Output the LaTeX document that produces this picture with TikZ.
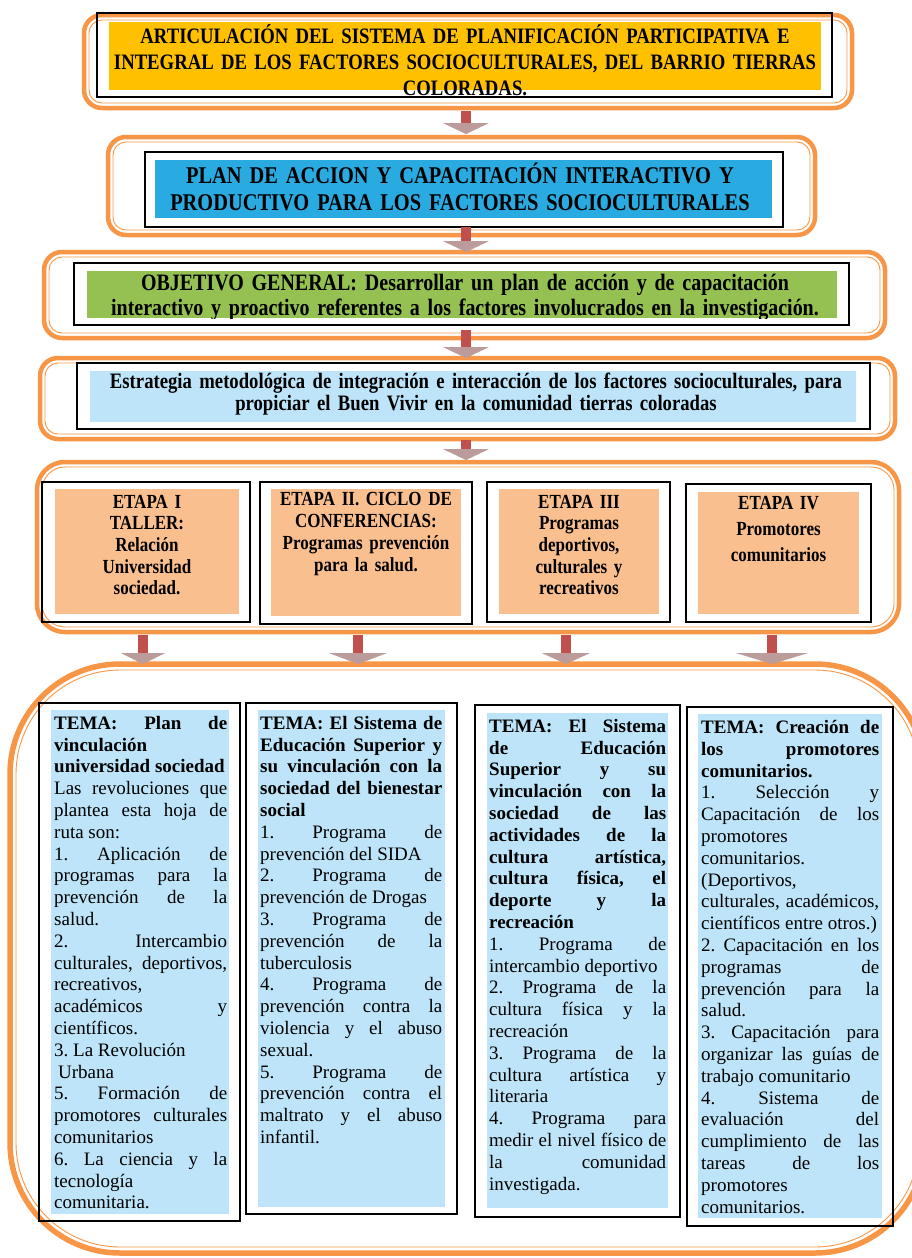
\documentclass[tikz,border=0pt]{standalone}
\usepackage{fontspec}
\setmainfont{Liberation Serif}
\newfontfamily\narrowserif{Liberation Serif}[FakeStretch=0.85]
\usetikzlibrary{arrows.meta,fit}
\frenchspacing
\tolerance=10000
\hyphenpenalty=10000
\hbadness=10000
\hfuzz=20pt

\definecolor{ringorange}{HTML}{F79646}
\definecolor{titleyellow}{HTML}{FFC000}
\definecolor{planblue}{HTML}{29ABE2}
\definecolor{goalgreen}{HTML}{94C152}
\definecolor{paleblue}{HTML}{BDE4F8}
\definecolor{stagesalmon}{HTML}{FABF8F}
\definecolor{arrowred}{HTML}{C0504D}
\definecolor{headmauve}{HTML}{BC9B9B}

\tikzset{
  ringouter/.style={draw=ringorange, line width=4.5pt, rounded corners=18pt, inner sep=0pt, outer sep=0pt},
  ringinner/.style={draw=ringorange, line width=0.9pt, rounded corners=13pt, inner sep=-5pt, outer sep=0pt},
  blackbox/.style={draw=black, line width=1.7pt, inner sep=0pt},
  fillbox/.style={inner sep=0pt, outer sep=0pt},
  headtext/.style={text width=#1pt, align=center, inner sep=0pt},
  stagetext/.style={text width=#1pt, align=center, inner sep=0pt,
    font={\narrowserif\bfseries\fontsize{20}{21.7}\selectfont}},
  coltext/.style={text width=#1pt, align=justify, anchor=north west, inner sep=0pt,
    font={\fontsize{19}{21.8}\selectfont}},
  flowarrow/.style={draw=arrowred, line width=10pt,
    -{Triangle[width=#1pt, length=11pt, line width=0.4pt, color=headmauve]}},
  flowarrow/.default=46
}

\begin{document}
\begin{tikzpicture}[x=1pt,y=-1pt]
\useasboundingbox (0,0) rectangle (911,1258);

% articulacion
\node[ringouter, minimum width=768pt, minimum height=93pt] (o1) at (468,61.5) {};
\node[ringinner, fit=(o1)] (o1in) {};
\node[blackbox, minimum width=735pt, minimum height=84pt] (b1) at (464.5,55) {};
\node[fillbox, fill=titleyellow, minimum width=712pt, minimum height=68pt] (f1) at (465,56) {};
\begin{scope}
  \clip ([shift={(2pt,-2pt)}]b1.north west) rectangle ([shift={(-2pt,2pt)}]b1.south east);
  \node[headtext=780, font={\narrowserif\bfseries\fontsize{22}{26}\selectfont}] (t1) at (465,60.5)
    {ARTICULACIÓN DEL SISTEMA DE PLANIFICACIÓN PARTICIPATIVA E\\
     INTEGRAL DE LOS FACTORES SOCIOCULTURALES, DEL BARRIO TIERRAS\\
     COLORADAS.};
\end{scope}

% plan de accion
\node[ringouter, minimum width=707pt, minimum height=98pt] (o2) at (461.5,186) {};
\node[ringinner, fit=(o2)] (o2in) {};
\node[blackbox, minimum width=638pt, minimum height=75pt] (b2) at (464,189.5) {};
\node[fillbox, fill=planblue, minimum width=617pt, minimum height=58pt] (f2) at (463.5,189) {};
\node[headtext=680, font={\narrowserif\bfseries\fontsize{24}{27}\selectfont}] (t2) at (460,186.5)
  {PLAN DE ACCION Y CAPACITACIÓN INTERACTIVO Y\\
   PRODUCTIVO PARA LOS FACTORES SOCIOCULTURALES};

% objetivo general
\node[ringouter, minimum width=841pt, minimum height=86pt] (o3) at (464.5,295) {};
\node[ringinner, fit=(o3)] (o3in) {};
\node[blackbox, minimum width=775pt, minimum height=62pt] (b3) at (461.5,294) {};
\node[fillbox, fill=goalgreen, minimum width=750pt, minimum height=47pt] (f3) at (462,294.5) {};
\begin{scope}
  \clip (f3.north west) rectangle (f3.south east);
  \node[headtext=820, font={\narrowserif\bfseries\fontsize{23.5}{25}\selectfont}] (t3) at (465,297.5)
    {OBJETIVO GENERAL: Desarrollar un plan de acción y de capacitación\\
     interactivo y proactivo referentes a los factores involucrados en la investigación.};
\end{scope}

% estrategia
\node[ringouter, minimum width=855pt, minimum height=81pt] (o4) at (467.5,398.5) {};
\node[ringinner, fit=(o4)] (o4in) {};
\node[blackbox, minimum width=793pt, minimum height=66pt] (b4) at (473.5,396) {};
\node[fillbox, fill=paleblue, minimum width=766pt, minimum height=51pt] (f4) at (473,396.5) {};
\node[headtext=840, font={\narrowserif\bfseries\fontsize{22}{22}\selectfont}] (t4) at (476,394)
  {Estrategia metodológica de integración e interacción de los factores socioculturales, para\\
   propiciar el Buen Vivir en la comunidad tierras coloradas};

% etapas
\node[ringouter, rounded corners=28pt, minimum width=862pt, minimum height=170pt] (o5) at (468,547) {};
\node[ringinner, rounded corners=23pt, fit=(o5)] (o5in) {};

\node[blackbox, minimum width=208pt, minimum height=140pt] (e1box) at (146,552) {};
\node[fillbox, fill=stagesalmon, minimum width=184pt, minimum height=125pt] (e1bg) at (147,551.5) {};
\node[stagetext=184] (e1) at (147,545) {ETAPA I\\TALLER:\\Relación\\Universidad\\sociedad.};

\node[blackbox, minimum width=212pt, minimum height=142pt] (e2box) at (366,553) {};
\node[fillbox, fill=stagesalmon, minimum width=190pt, minimum height=127pt] (e2bg) at (366,552.5) {};
\node[stagetext=190] (e2) at (366,534) {ETAPA II. CICLO DE\\CONFERENCIAS:\\Programas prevención\\para la salud.};

\node[blackbox, minimum width=183pt, minimum height=140pt] (e3box) at (578.5,552) {};
\node[fillbox, fill=stagesalmon, minimum width=160pt, minimum height=125pt] (e3bg) at (579,551.5) {};
\node[stagetext=160] (e3) at (579,545) {ETAPA III\\Programas\\deportivos,\\culturales y\\recreativos};

\node[blackbox, minimum width=185pt, minimum height=138pt] (e4box) at (778.5,553) {};
\node[fillbox, fill=stagesalmon, minimum width=161pt, minimum height=122pt] (e4bg) at (778.5,553) {};
\node[stagetext=161, font={\narrowserif\bfseries\fontsize{20}{26}\selectfont}] (e4) at (778.5,529) {ETAPA IV\\Promotores\\comunitarios};

% temas
\node[ringouter, rounded corners=110pt, line width=5.5pt, minimum width=915pt, minimum height=589pt] (o6) at (467.5,958.5) {};
\node[ringinner, rounded corners=104pt, inner sep=-6pt, fit=(o6)] (o6in) {};

\node[blackbox, minimum width=201pt, minimum height=518pt] (c1box) at (139.5,962) {};
\node[fillbox, fill=paleblue, minimum width=178pt, minimum height=504pt] (c1bg) at (140,962) {};
\node[coltext=173] (c1) at (54,716) {%
{\bfseries TEMA: Plan de\linebreak vinculación\newline universidad sociedad}\newline
Las revoluciones que\linebreak plantea esta hoja de\linebreak ruta son:\newline
1. Aplicación de\linebreak programas para la\linebreak prevención de la\linebreak salud.\newline
2. Intercambio\linebreak culturales, deportivos,\linebreak recreativos,\newline académicos y\linebreak científicos.\newline
3. La Revolución\newline \hspace*{4pt}Urbana\newline
5. Formación de\linebreak promotores culturales\linebreak comunitarios\newline
6. La ciencia y la\linebreak tecnología\newline comunitaria.};

\node[blackbox, minimum width=211pt, minimum height=511pt] (c2box) at (351.5,958.5) {};
\node[fillbox, fill=paleblue, minimum width=187pt, minimum height=497pt] (c2bg) at (351.5,958.5) {};
\node[coltext=182] (c2) at (260,716) {%
{\bfseries TEMA: El Sistema de\linebreak Educación Superior y\linebreak su vinculación con la\linebreak sociedad del bienestar\linebreak social}\newline
1. Programa de\linebreak prevención del SIDA\newline
2. Programa de\linebreak prevención de Drogas\newline
3. Programa de\linebreak prevención de la\linebreak tuberculosis\newline
4. Programa de\linebreak prevención contra la\linebreak violencia y el abuso\linebreak sexual.\newline
5. Programa de\linebreak prevención contra el\linebreak maltrato y el abuso\linebreak infantil.};

\node[blackbox, minimum width=205pt, minimum height=512pt] (c3box) at (577.5,961) {};
\node[fillbox, fill=paleblue, minimum width=181pt, minimum height=495pt] (c3bg) at (577.5,960.5) {};
\node[coltext=177] (c3) at (489,719) {%
{\bfseries TEMA: El Sistema\linebreak de Educación\linebreak Superior y su\linebreak vinculación con la\linebreak sociedad de las\linebreak actividades de la\linebreak cultura artística,\linebreak cultura física, el\linebreak deporte y la\linebreak recreación}\newline
1. Programa de\linebreak intercambio deportivo\newline
2. Programa de la\linebreak cultura física y la\linebreak recreación\newline
3. Programa de la\linebreak cultura artística y\linebreak literaria\newline
4. Programa para\linebreak medir el nivel físico de\linebreak la comunidad\linebreak investigada.};

\node[blackbox, minimum width=206pt, minimum height=519pt] (c4box) at (790,966.5) {};
\node[fillbox, fill=paleblue, minimum width=184pt, minimum height=504pt] (c4bg) at (790,966) {};
\node[coltext=178] (c4) at (701,720) {%
{\bfseries TEMA: Creación de\linebreak los promotores\linebreak comunitarios.}\newline
1. Selección y\linebreak Capacitación de los\linebreak promotores\newline comunitarios.\newline
(Deportivos,\newline culturales, académicos,\linebreak científicos entre otros.)\newline
2. Capacitación en los\linebreak programas de\linebreak prevención para la\linebreak salud.\newline
3. Capacitación para\linebreak organizar las guías de\linebreak trabajo comunitario\newline
4. Sistema de\linebreak evaluación del\linebreak cumplimiento de las\linebreak tareas de los\linebreak promotores\newline comunitarios.};

% flechas
\coordinate (spine) at (466,0);
\draw[flowarrow, shorten <=3pt, shorten >=3pt] (o1.south -| spine) -- (o2.north -| spine);
\draw[flowarrow, shorten <=-8pt] (o2.south -| spine) -- (o3.north -| spine);
\draw[flowarrow, shorten <=-8pt] (o3.south -| spine) -- (o4.north -| spine);
\draw[flowarrow, shorten <=1pt, shorten >=2pt] (o4.south -| spine) -- (o5.north -| spine);
\foreach \ax/\hw [count=\i] in {143/44,358/58,566/48,772/72}{
  \coordinate (drop\i) at (\ax,0);
  \draw[flowarrow=\hw, shorten <=3pt] (o5.south -| drop\i) -- (o6.north -| drop\i);
}
\end{tikzpicture}
\end{document}
